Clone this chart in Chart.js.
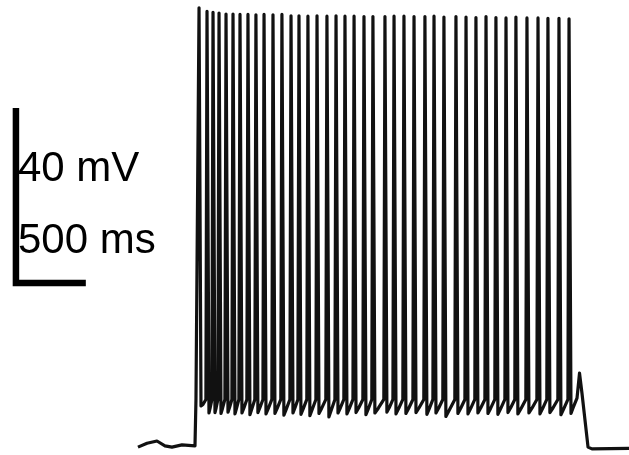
<!DOCTYPE html>
<html>
<head>
<meta charset="utf-8">
<script src="https://cdn.jsdelivr.net/npm/chart.js@4"></script>
<style>
  html, body { margin: 0; padding: 0; background: #fff; }
  #wrap { width: 629px; height: 455px; position: relative; }
</style>
</head>
<body>
<div id="wrap"><canvas id="trazo"></canvas></div>
<script>
// Registro de corriente-clamp: tren de potenciales de acción durante un escalón
// tiempos en ms, voltajes en mV

// trazo en reposo antes del escalón
const reposoT = [987, 1052, 1123, 1180, 1230, 1302, 1395];
const reposoV = [-70.2, -69.3, -68.8, -69.9, -70.2, -69.7, -69.9];

// tiempo del pico de cada espiga
const espigasT = [1424, 1481, 1524, 1567, 1617, 1667, 1717, 1774, 1831, 1889,
                  1953, 2017, 2082, 2139, 2203, 2268, 2339, 2404, 2468, 2533,
                  2604, 2668, 2754, 2819, 2890, 2962, 3040, 3105, 3176, 3262,
                  3334, 3405, 3477, 3548, 3620, 3691, 3770, 3849, 3920, 3999, 4071];
// voltaje del pico
const espigasPico = [30.2, 29.4, 29.2, 29.0, 28.8, 28.8, 28.7, 28.7, 28.6, 28.7,
                     28.6, 28.7, 28.4, 28.4, 28.3, 28.4, 28.3, 28.4, 28.3, 28.3,
                     28.2, 28.2, 28.2, 28.3, 28.3, 28.2, 28.2, 28.3, 28.1, 28.2,
                     28.1, 28.0, 28.2, 28.0, 27.9, 28.1, 27.9, 27.9, 27.8, 27.8, 27.7];
// valle después de cada espiga (post-hiperpolarización)
const espigasValle = [-60.8, -62.4, -62.3, -62.5, -62.2, -62.6, -62.4, -62.8, -62.3, -62.6,
                      -62.5, -62.9, -62.4, -62.7, -63.0, -62.5, -63.3, -62.4, -62.6, -62.3,
                      -62.8, -62.4, -62.2, -62.6, -62.5, -62.3, -62.7, -62.4, -63.2, -62.5,
                      -62.6, -62.4, -62.5, -62.7, -62.3, -62.6, -62.4, -62.6, -62.3, -62.8, -62.5];
const umbral = -59.3;

// final del escalón y regreso al reposo
const finalT = [4128, 4146, 4164, 4207, 4235, 4500];
const finalV = [-59.0, -53.3, -58.0, -70.2, -70.6, -70.5];

// barra de escala
const barraMs = 500;
const barraMv = 40;
const barraOrigen = { x: 114, y: -32.7 };
const etiquetas = ['40 mV', '500 ms'];

// armar los puntos del trazo
const puntos = [];
reposoT.forEach((t, i) => puntos.push({ x: t, y: reposoV[i] }));
puntos.push({ x: 1402, y: umbral });
espigasT.forEach((t, i) => {
    if (i > 0) puntos.push({ x: t - 8, y: umbral });
    puntos.push({ x: t, y: espigasPico[i] });
    puntos.push({ x: t + 14, y: espigasValle[i] });
    const sig = i + 1 < espigasT.length ? espigasT[i + 1] : finalT[0];
    puntos.push({ x: t + 14 + (sig - t - 22) * 0.4, y: (espigasValle[i] + umbral) / 2 - 0.4 });
});
finalT.forEach((t, i) => puntos.push({ x: t, y: finalV[i] }));

const barra = [
    { x: barraOrigen.x, y: barraOrigen.y + barraMv },
    { x: barraOrigen.x, y: barraOrigen.y },
    { x: barraOrigen.x + barraMs, y: barraOrigen.y }
];

// textos de la barra de escala
const textosBarra = {
    id: 'textosBarra',
    afterDatasetsDraw(chart) {
        const { ctx, scales } = chart;
        const x = scales.x.getPixelForValue(barraOrigen.x) + 2;
        ctx.save();
        ctx.fillStyle = '#000';
        ctx.font = '42px "Liberation Sans", Arial, sans-serif';
        ctx.textBaseline = 'alphabetic';
        ctx.fillText(etiquetas[0], x, scales.y.getPixelForValue(-9.4));
        ctx.fillText(etiquetas[1], x, scales.y.getPixelForValue(-25.8));
        ctx.restore();
    }
};

new Chart(document.getElementById('trazo'), {
    type: 'line',
    data: {
        datasets: [{
            data: puntos,
            borderColor: '#111',
            borderWidth: 3.2,
            borderJoinStyle: 'round',
            pointRadius: 0,
            tension: 0
        }, {
            data: barra,
            borderColor: '#000',
            borderWidth: 6.5,
            borderJoinStyle: 'miter',
            borderCapStyle: 'butt',
            pointRadius: 0,
            tension: 0
        }]
    },
    options: {
        responsive: true,
        maintainAspectRatio: false,
        animation: false,
        layout: { padding: 0 },
        scales: {
            x: { type: 'linear', min: 0, max: 4500, display: false },
            y: { min: -72, max: 32, display: false }
        },
        plugins: {
            legend: { display: false },
            tooltip: { enabled: false }
        }
    },
    plugins: [textosBarra]
});
</script>
</body>
</html>
